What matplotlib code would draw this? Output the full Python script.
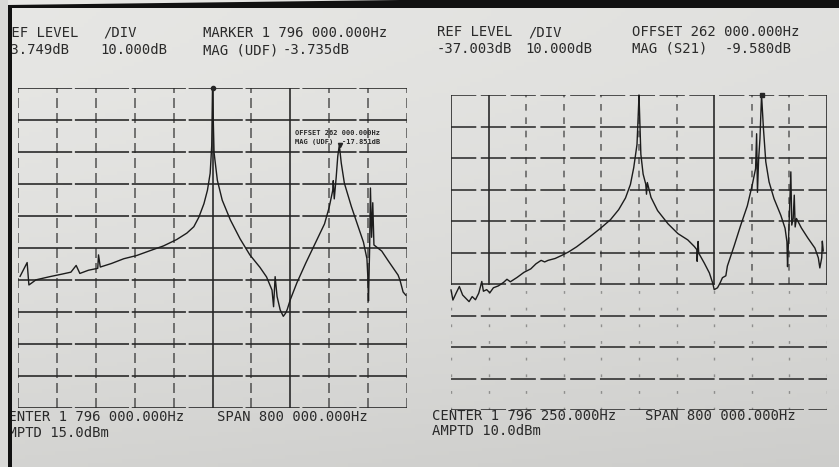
import numpy as np
import matplotlib
matplotlib.use("Agg")
import matplotlib.pyplot as plt
from matplotlib.patches import Polygon, Rectangle

# left trace (kHz, dB) - ref level -3.749 dB, 10 dB/div
left_freq_khz = [1400.3, 1414.8, 1418.4, 1424, 1432.8, 1461.6, 1486.8, 1504.8, 1515.6, 1523.2,
                 1540.8, 1560.0, 1561.6, 1565.2, 1588, 1613.6, 1640, 1667.2, 1695.2, 1722.4,
                 1743.2, 1757.6, 1768, 1778.4, 1785.6, 1791.2, 1794.4, 1796, 1799.2, 1806,
                 1816, 1832.8, 1852.8, 1872.8, 1893.6, 1907.2, 1918.4, 1921.6, 1924.8, 1928.8,
                 1935.2, 1941.6, 1946.4, 1949.6, 1956, 1969.6, 1988, 2007.2, 2026.4, 2036,
                 2043.2, 2044.4, 2046.4, 2050.4, 2053.6, 2056.8, 2060.8, 2067.2, 2081.6, 2095.2,
                 2106.4, 2113.6, 2115.2, 2116.8, 2119.2, 2120.8, 2123.2, 2125.6, 2128, 2144,
                 2157.6, 2171.2, 2177.6, 2181.6, 2188, 2193.6]
left_mag_db = [-62.6, -58.3, -65.3, -64.7, -63.7, -62.7, -61.9, -61.3, -59.2, -61.7,
               -60.7, -60.1, -55.9, -59.7, -58.6, -57.1, -56.1, -54.6, -53.1, -51.1,
               -49.1, -47.1, -44.1, -39.9, -35.7, -30.4, -21.8, -3.735, -23.9, -32.6,
               -38.8, -45.0, -50.9, -55.9, -59.8, -62.8, -66.9, -72.1, -62.7, -68.9,
               -73.1, -75.1, -74.1, -73.0, -69.9, -64.6, -58.4, -52.3, -46.2, -41.0,
               -35.8, -32.7, -38.4, -31.6, -25.1, -21.6, -27.2, -33.5, -40.8, -46.9,
               -51.9, -57.1, -62.0, -70.3, -53.4, -35.0, -50.4, -39.6, -52.8, -54.7,
               -57.8, -60.8, -62.2, -63.8, -67.5, -68.5]

# right trace (kHz, dB) - ref level -37.003 dB, 10 dB/div
right_freq_khz = [1396.3, 1400.3, 1407.1, 1414.0, 1421.0, 1427.5, 1434.7, 1441.3, 1448.3, 1455.3,
                  1461.8, 1465.2, 1472.2, 1478.8, 1486.5, 1497.0, 1508.0, 1515.3, 1522.5, 1537.0,
                  1551.5, 1566.0, 1577.0, 1588.0, 1595.5, 1602.7, 1617.8, 1632.3, 1646.7, 1663.5,
                  1687.5, 1714.5, 1735.5, 1753.0, 1767.5, 1778.0, 1785.0, 1792.0, 1794.7, 1796.25,
                  1800.2, 1805.0, 1810.6, 1812.2, 1814.0, 1821.8, 1835.8, 1858.0, 1879.0, 1900.0,
                  1914.0, 1919.3, 1920.0, 1922.0, 1923.3, 1935.3, 1946.0, 1953.0, 1956.3, 1963.3,
                  1969.0, 1973.8, 1981.0, 1984.3, 1998.7, 2012.3, 2026.7, 2037.0, 2044.3, 2046.5,
                  2048.3, 2050.8, 2053.6, 2057.0, 2061.0, 2066.0, 2073.0, 2083.5, 2098.0, 2107.0,
                  2111.0, 2112.3, 2114.0, 2119.3, 2121.3, 2124.3, 2126.6, 2128.5, 2131.3, 2141.7,
                  2155.5, 2170.5, 2177.8, 2181.0, 2185.0, 2186.3, 2188.3]
right_mag_db = [-98.9, -102.1, -99.9, -97.8, -100.5, -101.5, -102.6, -101.0, -102.0, -99.9,
                -96.2, -99.3, -98.8, -99.8, -98.2, -97.6, -96.5, -95.5, -96.3, -94.9,
                -93.3, -92.2, -90.6, -89.5, -90.0, -89.5, -88.9, -87.9, -86.8, -85.2,
                -82.5, -79.3, -76.6, -73.4, -69.7, -65.4, -60.1, -52.7, -43.0, -37.0,
                -55.8, -62.1, -65.3, -68.5, -64.8, -69.5, -73.7, -77.9, -81.0, -83.0,
                -85.1, -86.1, -89.8, -83.5, -87.2, -90.4, -93.5, -96.7, -98.8, -98.2,
                -96.6, -95.0, -94.4, -91.3, -84.9, -78.5, -72.2, -65.7, -60.4, -49.3,
                -67.9, -57.3, -50.9, -37.0, -47.6, -58.2, -64.6, -69.9, -75.2, -79.3,
                -83.6, -91.5, -84.7, -61.4, -78.3, -76.2, -68.8, -78.9, -76.2, -79.2,
                -82.4, -85.6, -88.7, -91.9, -88.7, -83.4, -86.5]

# markers
left_marker_khz = [1796, 2058]
left_marker_db = [-3.735, -21.6]
right_marker_khz = [2058.25]
right_marker_db = [-37.0]

left_ref, right_ref = -3.749, -37.003
left_center, right_center = 1796.0, 1796.25
span_khz = 800.0

W, H = 839, 467
fig = plt.figure(figsize=(W / 100, H / 100), dpi=100)


def px(x, y):
    return x / W, 1 - y / H


# paper background
bg = fig.add_axes([0, 0, 1, 1], zorder=-5)
yy, xx = np.mgrid[0:1:120j, 0:1:200j]
shade = 0.905 - 0.025 * xx - 0.075 * yy ** 1.6
bg.imshow(np.dstack([shade, shade, shade * 0.99]), extent=[0, 1, 0, 1],
          aspect="auto", origin="upper")
bg.axis("off")

ink = "#262626"


def make_panel(rect, center, ref):
    x0, y0, x1, y1 = rect
    l, t = px(x0, y0)
    r, b = px(x1, y1)
    ax = fig.add_axes([l, b, r - l, t - b])
    ax.set_xlim(center - span_khz / 2, center + span_khz / 2)
    ax.set_ylim(ref - 100, ref)
    ax.axis("off")
    return ax


axl = make_panel((18, 88, 407, 408), left_center, left_ref)
axr = make_panel((451, 95, 827, 410), right_center, right_ref)

# left grid
xs = np.linspace(left_center - 400, left_center + 400, 11)
ys = np.linspace(left_ref - 100, left_ref, 11)
for y in ys:
    axl.axhline(y, color=ink, lw=1.3, ls=(0, (30, 1.5)), alpha=0.9)
for i, x in enumerate(xs):
    if i in (5, 7):
        axl.axvline(x, color=ink, lw=1.3, alpha=0.9)
    else:
        axl.axvline(x, color=ink, lw=1.2, ls=(0, (6, 3)), alpha=0.7)

# right grid
xs = np.linspace(right_center - 400, right_center + 400, 11)
ys = np.linspace(right_ref - 100, right_ref, 11)
for y in ys:
    axr.axhline(y, color=ink, lw=1.3, ls=(0, (14, 2.5)), alpha=0.85)
for i, x in enumerate(xs):
    if i in (0, 1, 7, 10):
        axr.axvline(x, ymin=0.4, ymax=1, color=ink, lw=1.3, alpha=0.9)
    else:
        axr.axvline(x, ymin=0.4, ymax=1, color=ink, lw=1.2, ls=(0, (4, 4)), alpha=0.65)
    axr.axvline(x, ymin=0, ymax=0.4, color=ink, lw=1.0, ls=(0, (2, 10)), alpha=0.4)

# traces
axl.plot(left_freq_khz, left_mag_db, color="#1c1c1c", lw=1.0, clip_on=False)
axr.plot(right_freq_khz, right_mag_db, color="#1c1c1c", lw=1.0, clip_on=False)
axl.plot(left_marker_khz[:1], left_marker_db[:1], "o", color=ink, ms=3, clip_on=False)
axl.plot(left_marker_khz[1:], left_marker_db[1:], "v", color=ink, ms=3, clip_on=False)
axr.plot(right_marker_khz, right_marker_db, "s", color=ink, ms=3.5, clip_on=False)

# printed labels
font = dict(family="DejaVu Sans Mono", fontsize=10, color="#2a2a2a", va="center")


def label(x, y, s, **kw):
    opts = dict(font)
    opts.update(kw)
    fig.text(*px(x, y), s, **opts)


label(3, 33, "REF LEVEL")
label(3, 50, "-3.749dB")
label(103, 33, "/DIV")
label(100, 50, "10.000dB")
label(203, 33, "MARKER 1 796 000.000Hz")
label(203, 50, "MAG (UDF)")
label(283, 50, "-3.735dB")

label(437, 32, "REF LEVEL")
label(437, 49, "-37.003dB")
label(528, 32, "/DIV")
label(525, 49, "10.000dB")
label(632, 32, "OFFSET 262 000.000Hz")
label(632, 49, "MAG (S21)")
label(725, 49, "-9.580dB")

label(0.5, 417, "CENTER 1 796 000.000Hz")
label(0.5, 433, "AMPTD 15.0dBm")
label(217, 417, "SPAN 800 000.000Hz")

label(432, 416, "CENTER 1 796 250.000Hz")
label(432, 431, "AMPTD 10.0dBm")
label(645, 416, "SPAN 800 000.000Hz")

# small offset-marker readout inside left graticule
small = dict(family="DejaVu Sans Mono", fontsize=5, color="#2a2a2a",
             va="center", fontweight="bold")
fig.text(*px(295, 133), "OFFSET 262 000.000Hz", **small)
fig.text(*px(295, 142), "MAG (UDF)", **small)
fig.text(*px(342, 142), "-17.851dB", **small)

# photo frame: left strip, black edges
fig.patches.append(Rectangle((0, 0), 8 / W, 1, transform=fig.transFigure,
                             facecolor="#d9d9d7", edgecolor="none", zorder=10))
fig.patches.append(Rectangle((8 / W, 0), 3.5 / W, 1 - 5 / H, transform=fig.transFigure,
                             facecolor="#111111", edgecolor="none", zorder=11))
fig.patches.append(Polygon([px(8, 5), px(400, 0), px(839, 0), px(839, 8), px(8, 8)],
                           closed=True, transform=fig.transFigure,
                           facecolor="#111111", edgecolor="none", zorder=11))

fig.savefig("out.png", dpi=100)
